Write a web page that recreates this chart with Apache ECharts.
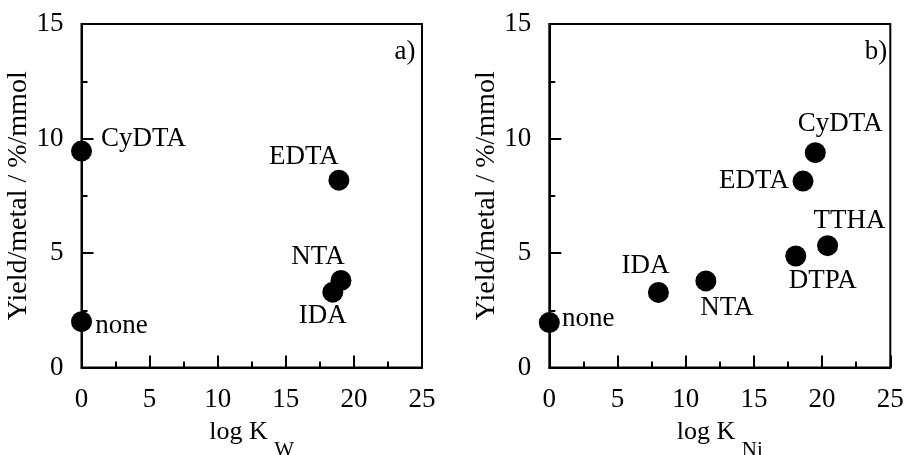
<!DOCTYPE html>
<html>
<head>
<meta charset="utf-8">
<script src="https://cdn.jsdelivr.net/npm/echarts@6/dist/echarts.min.js"></script>
<style>
html,body{margin:0;padding:0;background:#fff;}
#c{width:905px;height:455px;}
</style>
</head>
<body>
<div id="c"></div>
<script>
// ---- data ----
const namesW = ['CyDTA', 'none', 'EDTA', 'NTA', 'IDA'];
const logKW = [0, 0, 18.9, 19.05, 18.45];
const yieldW = [9.45, 2.0, 8.18, 3.8, 3.29];

const namesNi = ['none', 'IDA', 'NTA', 'DTPA', 'TTHA', 'EDTA', 'CyDTA'];
const logKNi = [0, 8.0, 11.48, 18.07, 20.4, 18.6, 19.5];
const yieldNi = [1.96, 3.28, 3.78, 4.87, 5.32, 8.14, 9.38];

const xRange = [0, 25];
const yRange = [0, 15];
const yTitle = 'Yield/metal / %/mmol';
const panelTags = ['a)', 'b)'];

// ---- label placement (style) ----
const offW = [[62, -12], [40, 4], [-35, -23], [-23, -24], [-10, 24]];
const offNi = [[39, -4], [-13, -26], [21, 27], [27, 25], [22, -25], [-49, 0], [25, -29]];

const FONT = "'Liberation Serif','Times New Roman',serif";

function makeData(xs, ys, names, offs) {
  return xs.map((x, i) => ({
    value: [x, ys[i]],
    name: names[i],
    label: { offset: offs[i] }
  }));
}

function xAxis(idx, sub) {
  return {
    type: 'value', gridIndex: idx, min: xRange[0], max: xRange[1], interval: 5,
    name: '{a|log K }{b|' + sub + '}',
    nameLocation: 'middle', nameGap: 36,
    nameTextStyle: {
      rich: {
        a: { fontFamily: FONT, fontSize: 26, color: '#000' },
        b: { fontFamily: FONT, fontSize: 21, color: '#000', padding: [36, 0, 0, 0] }
      }
    },
    axisLine: { show: true, onZero: false, lineStyle: { color: '#000', width: 2 } },
    axisTick: { show: true, inside: true, length: 12, lineStyle: { color: '#000', width: 2 } },
    minorTick: { show: true, splitNumber: 2, length: 6, lineStyle: { color: '#000', width: 2 } },
    axisLabel: { fontFamily: FONT, fontSize: 27, color: '#000', margin: 19 },
    splitLine: { show: false }
  };
}
function yAxis(idx) {
  return {
    type: 'value', gridIndex: idx, min: yRange[0], max: yRange[1], interval: 5,
    name: yTitle, nameLocation: 'middle', nameGap: 44,
    nameTextStyle: { fontFamily: FONT, fontSize: 28, color: '#000' },
    axisLine: { show: true, onZero: false, lineStyle: { color: '#000', width: 2 } },
    axisTick: { show: true, inside: true, length: 12, lineStyle: { color: '#000', width: 2 } },
    minorTick: { show: true, splitNumber: 2, length: 6, lineStyle: { color: '#000', width: 2 } },
    axisLabel: { fontFamily: FONT, fontSize: 27, color: '#000', margin: 18 },
    splitLine: { show: false }
  };
}
function series(idx, data) {
  return {
    type: 'scatter', xAxisIndex: idx, yAxisIndex: idx, data: data,
    symbol: 'circle', symbolSize: 21, clip: false,
    itemStyle: { color: '#000', opacity: 1 },
    label: {
      show: true, position: 'inside', formatter: '{b}',
      fontFamily: FONT, fontSize: 27, color: '#000'
    },
    emphasis: { disabled: true }
  };
}

const chart = echarts.init(document.getElementById('c'), null, { renderer: 'canvas' });
chart.setOption({
  animation: false,
  backgroundColor: '#fff',
  grid: [
    { left: 81.5, top: 24, width: 340.5, height: 343.5, show: true, borderColor: '#000', borderWidth: 2, outerBoundsMode: 'none', containLabel: false },
    { left: 549.3, top: 24, width: 341, height: 343.5, show: true, borderColor: '#000', borderWidth: 2, outerBoundsMode: 'none', containLabel: false }
  ],
  xAxis: [xAxis(0, 'W'), xAxis(1, 'Ni')],
  yAxis: [yAxis(0), yAxis(1)],
  series: [
    series(0, makeData(logKW, yieldW, namesW, offW)),
    series(1, makeData(logKNi, yieldNi, namesNi, offNi))
  ],
  graphic: [
    { type: 'text', x: 405, y: 52, style: { text: panelTags[0], font: '27px ' + FONT, fill: '#000', align: 'center', verticalAlign: 'middle' } },
    { type: 'text', x: 876, y: 52, style: { text: panelTags[1], font: '27px ' + FONT, fill: '#000', align: 'center', verticalAlign: 'middle' } }
  ]
});
</script>
</body>
</html>
